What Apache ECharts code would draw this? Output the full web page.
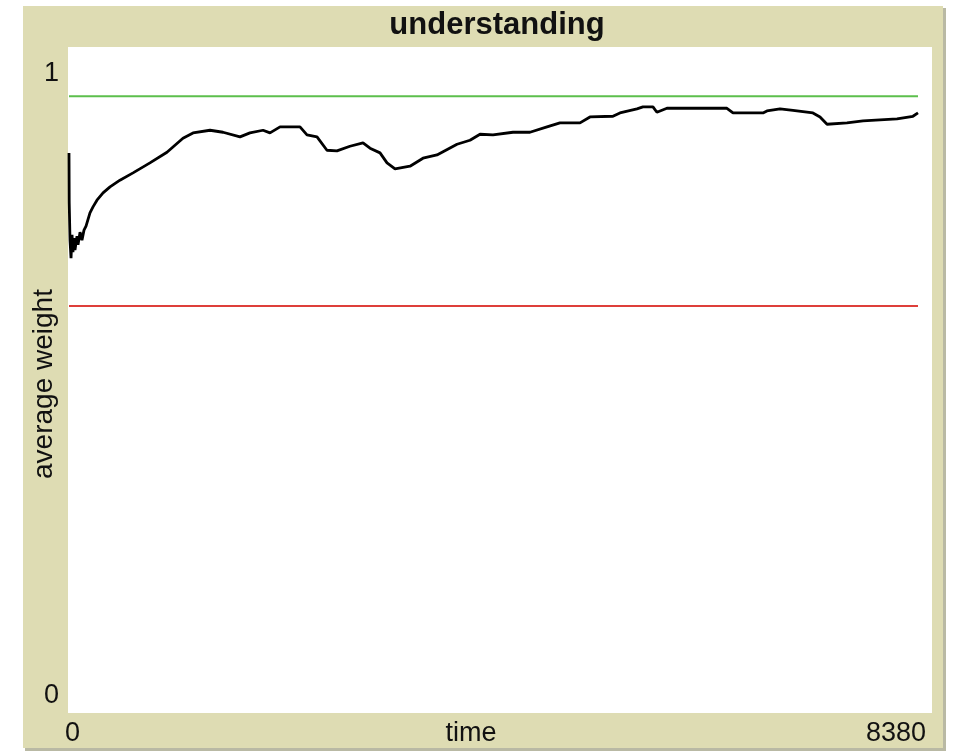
<!DOCTYPE html>
<html>
<head>
<meta charset="utf-8">
<title>understanding</title>
<script src="https://cdn.jsdelivr.net/npm/echarts@6/dist/echarts.min.js"></script>
<style>
  html, body { margin: 0; padding: 0; background: #ffffff; }
  #chart { width: 953px; height: 752px; }
</style>
</head>
<body>
<div id="chart"></div>
<script>
// time steps and average weight
const timeSteps = [0, 2, 10, 20, 30, 39, 49, 59, 79, 89, 109, 128, 148, 168, 207, 237, 276, 336, 405, 503,
  632, 799, 967, 1125, 1224, 1392, 1520, 1688, 1786, 1915, 1984, 2083, 2280, 2349, 2448, 2546, 2645, 2773,
  2902, 2971, 3070, 3139, 3218, 3366, 3494, 3632, 3830, 3958, 4057, 4185, 4382, 4550, 4718, 4846, 5044,
  5142, 5369, 5438, 5606, 5665, 5764, 5803, 5902, 6494, 6554, 6850, 6889, 7018, 7146, 7343, 7413, 7482,
  7679, 7837, 8173, 8330, 8380];
const avgWeight = [0.841, 0.767, 0.710, 0.683, 0.718, 0.692, 0.713, 0.695, 0.716, 0.703, 0.722, 0.710,
  0.725, 0.731, 0.751, 0.760, 0.770, 0.781, 0.790, 0.800, 0.811, 0.826, 0.842, 0.863, 0.871, 0.875,
  0.872, 0.865, 0.871, 0.875, 0.871, 0.880, 0.880, 0.868, 0.865, 0.845, 0.844, 0.851, 0.856, 0.848,
  0.841, 0.826, 0.817, 0.821, 0.833, 0.838, 0.854, 0.860, 0.869, 0.868, 0.872, 0.872, 0.880, 0.886,
  0.886, 0.895, 0.896, 0.901, 0.907, 0.910, 0.910, 0.902, 0.908, 0.908, 0.901, 0.901, 0.904, 0.907,
  0.905, 0.901, 0.895, 0.884, 0.886, 0.889, 0.892, 0.896, 0.901];

const upperLevel = 0.926;
const lowerLevel = 0.611;

const xMin = 0, xMax = 8380;
const yMin = 0, yMax = 1;
const xTickLabels = ['0', '8380'];
const yTickLabels = ['0', '1'];

const chart = echarts.init(document.getElementById('chart'));

const textFont = '"Liberation Sans", Arial, sans-serif';

const option = {
  backgroundColor: '#ffffff',
  animation: false,
  grid: { left: 69, top: 47, right: 35, bottom: 39 },
  xAxis: {
    type: 'value', min: xMin, max: xMax,
    axisLine: { show: false }, axisTick: { show: false },
    axisLabel: { show: false }, splitLine: { show: false }
  },
  yAxis: {
    type: 'value', min: yMin, max: yMax,
    axisLine: { show: false }, axisTick: { show: false },
    axisLabel: { show: false }, splitLine: { show: false }
  },
  graphic: [
    // panel with shadow edge
    { type: 'rect', z: 0, shape: { x: 25, y: 8, width: 921, height: 743 }, style: { fill: '#b9b9a4' } },
    { type: 'rect', z: 0, shape: { x: 23, y: 6, width: 920, height: 742 }, style: { fill: '#dedcb3' } },
    { type: 'rect', z: 0, shape: { x: 68, y: 47, width: 864, height: 666 }, style: { fill: '#ffffff' } },
    { type: 'text', z: 1, x: 497, y: 25, style: { text: 'understanding', font: 'bold 31px ' + textFont,
      fill: '#111', align: 'center', verticalAlign: 'middle' } },
    { type: 'text', z: 1, x: 44, y: 384, rotation: Math.PI / 2, style: { text: 'average weight',
      font: '28px ' + textFont, fill: '#111', align: 'center', verticalAlign: 'middle' } },
    { type: 'text', z: 1, x: 471, y: 734, style: { text: 'time', font: '27px ' + textFont,
      fill: '#111', align: 'center', verticalAlign: 'middle' } },
    { type: 'text', z: 1, x: 65, y: 734, style: { text: xTickLabels[0], font: '27px ' + textFont,
      fill: '#111', align: 'left', verticalAlign: 'middle' } },
    { type: 'text', z: 1, x: 926, y: 734, style: { text: xTickLabels[1], font: '27px ' + textFont,
      fill: '#111', align: 'right', verticalAlign: 'middle' } },
    { type: 'text', z: 1, x: 59, y: 696, style: { text: yTickLabels[0], font: '27px ' + textFont,
      fill: '#111', align: 'right', verticalAlign: 'middle' } },
    { type: 'text', z: 1, x: 59, y: 74, style: { text: yTickLabels[1], font: '27px ' + textFont,
      fill: '#111', align: 'right', verticalAlign: 'middle' } }
  ],
  series: [
    {
      name: 'upper',
      type: 'line', z: 3, symbol: 'none', silent: true,
      lineStyle: { color: '#5cbf4c', width: 2 },
      data: [[xMin, upperLevel], [xMax, upperLevel]]
    },
    {
      name: 'lower',
      type: 'line', z: 3, symbol: 'none', silent: true,
      lineStyle: { color: '#de3f3a', width: 2 },
      data: [[xMin, lowerLevel], [xMax, lowerLevel]]
    },
    {
      name: 'average weight',
      type: 'line', z: 4, symbol: 'none', silent: true,
      lineStyle: { color: '#000000', width: 2.8 },
      data: timeSteps.map((t, i) => [t, avgWeight[i]])
    }
  ]
};

chart.setOption(option);
</script>
</body>
</html>
